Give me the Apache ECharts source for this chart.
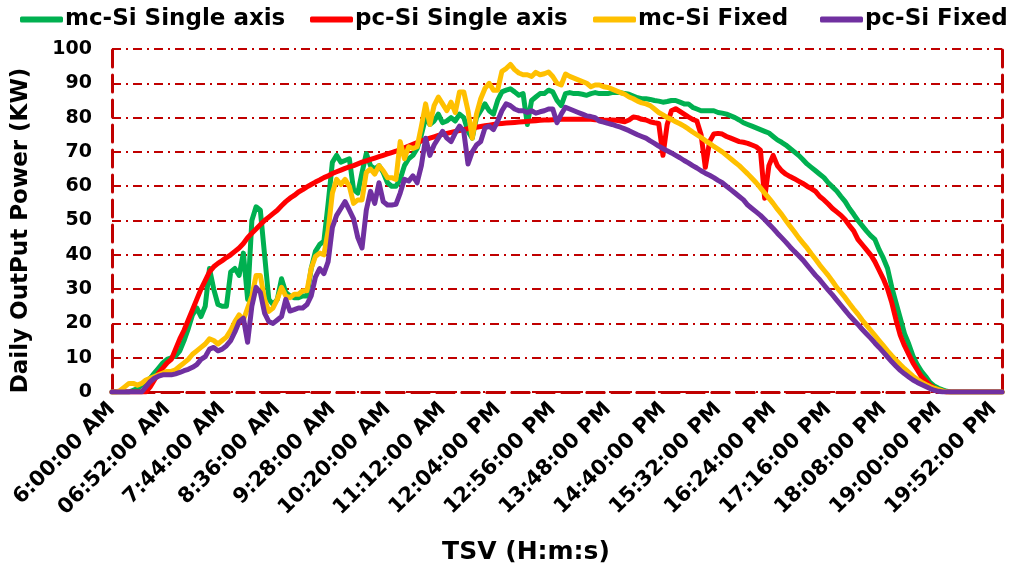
<!DOCTYPE html>
<html>
<head>
<meta charset="utf-8">
<script src="https://cdn.jsdelivr.net/npm/echarts@6/dist/echarts.min.js"></script>
<style>
  html, body { margin: 0; padding: 0; background: #ffffff; }
  #chart { width: 1013px; height: 570px; }
</style>
</head>
<body>
<div id="chart"></div>
<script>
// ---- Data ----
// Time axis: samples every 4 minutes from 6:00 to 20:00
const startMinute = 360;
const stepMinutes = 4;
const sampleCount = 211;

// Tick labels shown every 52 minutes (every 13th sample)
const tickLabels = [
  "6:00:00 AM", "06:52:00 AM", "7:44:00 AM", "8:36:00 AM", "9:28:00 AM",
  "10:20:00 AM", "11:12:00 AM", "12:04:00 PM", "12:56:00 PM", "13:48:00 PM",
  "14:40:00 PM", "15:32:00 PM", "16:24:00 PM", "17:16:00 PM", "18:08:00 PM",
  "19:00:00 PM", "19:52:00 PM"
];
const labelEvery = 13;

const seriesNames = ["mc-Si Single axis", "pc-Si Single axis", "mc-Si Fixed", "pc-Si Fixed"];

const mcSiSingleAxis = [
  0,0,0,0,0,0.5,1,2,3,4,
  5.5,7,8.5,9.5,10,10.5,12,15,18.5,22.5,
  24.5,22,25,36,30,25.5,25,25,35,36,
  34,40.5,27,50,54,53,40,27,25.5,27,
  33,29,28,27.5,27.5,28,28,36,41,43,
  44,55,67,69,67,67.5,68,59,58,64,
  69.5,66,65,66,64,61,60,60,62,66,
  68,69,71,75,80,78,79,81,78.5,79,
  80,79,81,80,76,74,80,82,84,82,
  81,85,87.5,88,88.4,87.5,86.5,87,78,85,
  86,87,87,88,87.5,85,83.5,87,87.3,87,
  87,86.8,86.5,87,87.3,87,87,87,87.3,87.3,
  87.3,87,86.8,86.3,85.8,85.5,85.5,85.3,85,84.8,
  84.5,84.7,85,85,84.5,84,84,83,82.5,82,
  82,82,82,81.5,81.3,81,80.5,80,79.3,78.5,
  78,77.5,77,76.5,76,75.5,74.5,73.5,72.8,72,
  71,70,69,67.8,66.5,65.5,64.5,63.5,62.5,61,
  59.8,58.6,57,55.5,53.5,51.8,50,48.5,47,45.6,
  44.5,41.5,39,36,30.5,26,21.5,17,14,10.5,
  8,6,4.5,2.8,1.8,1.1,0.6,0.2,0,0,
  0,0,0,0,0,0,0,0,0,0,0
];

const pcSiSingleAxis = [
  0,0,0,0,0,0,0,0,0,1.5,
  3.5,5.5,7,8.5,9.5,12.5,15.5,18,21,24,
  27,30,32.5,35,36.5,37.5,38.3,39.2,40,41,
  42,43.3,45,46.3,47.5,48.8,50,51,52,53,
  54.3,55.5,56.5,57.3,58.3,59,59.8,60.5,61.2,61.8,
  62.5,63,63.7,64.2,64.7,65.2,65.6,66,66.5,67,
  67.4,67.8,68.2,68.6,69,69.4,69.8,70.2,70.7,71.2,
  71.7,72.2,72.7,73.2,73.6,74,74.4,74.8,75.1,75.4,
  75.7,76,76.2,76.5,76.8,77,77.2,77.4,77.6,77.8,
  78,78.2,78.3,78.4,78.5,78.6,78.7,78.8,78.9,79,
  79.1,79.2,79.3,79.3,79.4,79.4,79.5,79.5,79.5,79.5,
  79.5,79.5,79.5,79.5,79.4,79.3,79.2,79.2,79.3,79.2,
  79,78.8,79.3,80.2,80,79.5,79.3,78.8,78.5,78.3,
  69,78,82,82.6,81.8,81,80.2,79.5,79,75,
  65.5,73,75.2,75.4,75.2,74.5,74,73.5,73,72.8,
  72.5,72,71.5,70.5,56.5,66,69,66,64.5,63.5,
  62.8,62.2,61.5,60.8,60,59.3,58.5,57,56,54.8,
  53.5,52.5,51.5,50.2,48.5,47,44.5,43,41.5,40,
  38,35.5,33,30,26,21,16.5,13.5,11,8.5,
  6.5,4.5,3.2,2,1.2,0.6,0.2,0,0,0,
  0,0,0,0,0,0,0,0,0,0,0
];

const mcSiFixed = [
  0,0,0.5,1.5,2.5,2.5,2,2.5,3.5,4,
  4.5,5,5.5,6,6,6.5,7.5,8.5,9.5,11,
  12,13,14,15.5,15,14,15,16,18,20.5,
  22.5,21,24.5,28,34,34,27,23.5,24.5,27,
  30.5,28,27.5,28.5,28.5,29.5,29.5,36,39.5,40.5,
  40,47,58,62,60.5,62,60,55,56,56,
  64,65,63.5,66,64.5,62.5,62.5,62,73,68,
  71.5,71,71.5,77.5,84,78,83.5,86,84,82,
  84.5,81.5,87.5,87.5,82,74,81,85.5,88.5,90,
  88,88,93.5,94.3,95.5,94,93,92.5,92.5,92,
  93.2,92.5,92.8,93.3,92,90,89.5,92.7,92,91.5,
  91,90.5,90,89,89.5,89.5,89,88.8,88.3,87.8,
  87.3,86.8,86,85.5,84.8,84.3,84,83.5,82.5,81.5,
  80.8,80,79.5,78.8,78.2,77.5,76.7,75.8,75,74.2,
  73.3,72.5,71.6,70.8,70,69,68,67,66,64.8,
  63.6,62.3,61,59.5,58,56.5,55,53.3,51.8,50,
  48.3,46.7,45,43.5,42,40.3,38.7,37,35.5,34,
  32.3,30.5,29,27.5,25.8,24.2,22.7,21,19.5,18,
  16.5,15,13.5,12,10.6,9.3,8,6.8,5.7,4.6,
  3.7,2.9,2.2,1.6,1.1,0.7,0.3,0,0,0,
  0,0,0,0,0,0,0,0,0,0,0
];

const pcSiFixed = [
  0,0,0,0,0,0,0,0,1.5,3,
  4,4.6,5,5,5,5.3,5.7,6.2,6.6,7.2,
  8,9.5,10.3,12.5,13,12,12.5,13.5,15,17.5,
  20.5,21.5,14.5,25,30.5,29,23,20.5,20,21,
  22,27,23.6,24,24.5,24.5,25.5,28,33.5,36,
  34.5,38,48,51.5,53.5,55.5,53,50.5,45,42,
  53,58.5,55,61,55.5,54.5,54.5,54.7,58,62,
  61.5,63,61,66,74,69,72,74,76,74,
  73,75.5,77.5,76,66.5,70,72,73,77,77.5,
  76.5,79,82,84,83.5,82.5,82,82,81.5,82,
  81.3,81.7,82,82.5,82.5,78.5,81,83,82.5,82,
  81.5,81,80.5,80.3,80,79,78.7,78.3,78,77.6,
  77.2,76.7,76.2,75.6,75,74.5,74,73.2,72.5,71.7,
  71,70.3,69.7,69,68.3,67.5,66.8,66,65.3,64.5,
  63.8,63.2,62.5,61.7,61,60,59,58,57,56,
  54.5,53.5,52.5,51.5,50.3,49,47.7,46.3,45,43.7,
  42.3,41,39.8,38.5,37,35.5,34,32.7,31.2,29.7,
  28.3,26.8,25.3,23.8,22.3,21,19.7,18.3,17,15.7,
  14.3,13,11.6,10.2,8.8,7.5,6.3,5.3,4.4,3.5,
  2.8,2.2,1.6,1,0.5,0.2,0,0,0,0,
  0,0,0,0,0,0,0,0,0,0,0
];

const seriesColors = ["#00B050", "#FF0000", "#FFC000", "#7030A0"];

// ---- Build the category axis (time strings) ----
const categories = [];
for (let i = 0; i < sampleCount; i++) {
  const m = startMinute + i * stepMinutes;
  const h = Math.floor(m / 60), mm = m % 60;
  categories.push(h + ":" + String(mm).padStart(2, "0") + ":00");
}

const FONT = "DejaVu Sans";
const borderRed = "#C00000";
const borderStyle = { color: borderRed, width: 3, type: [17, 8] };
const legendLefts = [20, 310, 593, 820];

const chart = echarts.init(document.getElementById("chart"), null, { renderer: "canvas" });
const allData = [mcSiSingleAxis, pcSiSingleAxis, mcSiFixed, pcSiFixed];

const option = {
  backgroundColor: "#ffffff",
  animation: false,
  legend: seriesNames.map(function (name, k) {
    return {
      top: 8,
      left: legendLefts[k],
      itemWidth: 43,
      itemHeight: 6,
      itemGap: 0,
      padding: 0,
      icon: "roundRect",
      textStyle: { fontFamily: FONT, fontWeight: "bold", fontSize: 23, color: "#000", padding: [0, 0, 0, -3] },
      data: [name]
    };
  }),
  grid: { left: 112, right: 11, top: 49, bottom: 175, containLabel: false },
  xAxis: [
    {
      type: "category",
      data: categories,
      boundaryGap: false,
      axisLine: { show: true, lineStyle: borderStyle },
      axisTick: { show: false },
      splitLine: { show: false },
      axisLabel: {
        interval: labelEvery - 1,
        rotate: 45,
        margin: 14,
        fontFamily: FONT,
        fontWeight: "bold",
        fontSize: 21,
        color: "#000",
        formatter: function (val, idx) {
          return idx % labelEvery === 0 ? (tickLabels[idx / labelEvery] || "") : "";
        }
      },
      name: "TSV (H:m:s)",
      nameLocation: "middle",
      nameGap: 148,
      nameTextStyle: {
        fontFamily: FONT, fontWeight: "bold", fontSize: 25, color: "#000",
        padding: [0, 62, 0, 0]
      }
    },
    {
      type: "category",
      data: categories,
      boundaryGap: false,
      position: "top",
      axisLine: { show: true, lineStyle: borderStyle },
      axisTick: { show: false },
      axisLabel: { show: false },
      splitLine: { show: false }
    }
  ],
  yAxis: [
    {
      type: "value",
      min: 0,
      max: 100,
      interval: 10,
      axisLine: { show: true, lineStyle: borderStyle },
      axisTick: { show: false },
      axisLabel: {
        margin: 20,
        fontFamily: FONT, fontWeight: "bold", fontSize: 19, color: "#000"
      },
      splitLine: {
        show: true,
        lineStyle: { color: borderRed, width: 2, type: [9, 5, 2, 5] }
      },
      name: "Daily OutPut Power (KW)",
      nameLocation: "middle",
      nameRotate: 90,
      nameGap: 79,
      nameTextStyle: {
        fontFamily: FONT, fontWeight: "bold", fontSize: 23, color: "#000",
        padding: [0, 20, 0, 0]
      }
    },
    {
      type: "value",
      min: 0,
      max: 100,
      interval: 10,
      position: "right",
      axisLine: { show: true, lineStyle: borderStyle },
      axisTick: { show: false },
      axisLabel: { show: false },
      splitLine: { show: false }
    }
  ],
  series: seriesNames.map(function (name, k) {
    return {
      name: name,
      type: "line",
      xAxisIndex: 0,
      yAxisIndex: 0,
      data: allData[k],
      symbol: "none",
      smooth: false,
      lineStyle: { color: seriesColors[k], width: 5, cap: "round", join: "round" },
      itemStyle: { color: seriesColors[k] }
    };
  })
};

chart.setOption(option);
</script>
</body>
</html>
